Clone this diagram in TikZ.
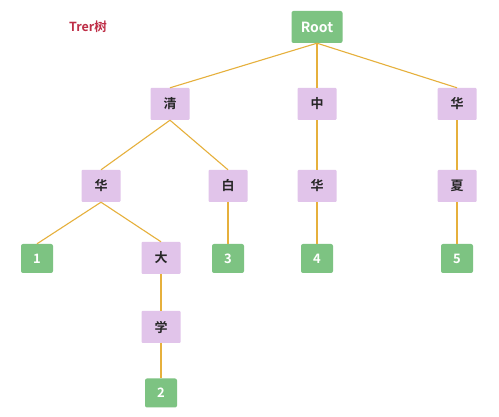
\documentclass[tikz,border=0pt]{standalone}
\usepackage{fontspec}
\setmainfont{Noto Sans CJK SC}[BoldFont={Noto Sans CJK SC Bold}]
\begin{document}
\begin{tikzpicture}[x=1pt,y=-1pt,
  gbox/.style={fill=gfill, draw=none, rounded corners=2pt, minimum width=32pt, minimum height=29pt, text=white, font=\fontsize{13}{15}\selectfont\bfseries, inner sep=0pt},
  pbox/.style={fill=pfill, draw=none, rounded corners=1pt, minimum width=39pt, minimum height=32pt, text=black!85, font=\fontsize{13}{15}\selectfont\bfseries, inner sep=0pt},
  edge/.style={draw=ecol, line width=1.1pt}]
\definecolor{gfill}{RGB}{125,195,130}
\definecolor{pfill}{RGB}{225,196,234}
\definecolor{ecol}{RGB}{230,176,60}
\definecolor{tcol}{RGB}{190,45,70}
\useasboundingbox[fill=white] (0,0) rectangle (499,417);
\node[text=tcol, font=\fontsize{12.5}{14}\selectfont\bfseries] (title) at (88,27) {Trer树};
\node[gbox, minimum width=51pt, minimum height=32pt, font=\fontsize{14}{16}\selectfont\bfseries] (root) at (317,27) {Root};
\node[pbox] (qing) at (170,104) {清};
\node[pbox] (zhong) at (317,104) {中};
\node[pbox] (hua3) at (457,104) {华};
\node[pbox] (hua1) at (101,186) {华};
\node[pbox] (bai) at (228,186) {白};
\node[pbox] (hua2) at (317,186) {华};
\node[pbox] (xia) at (457,186) {夏};
\node[gbox] (n1) at (37,258.5) {1};
\node[pbox] (da) at (161,258) {大};
\node[gbox] (n3) at (228,258.5) {3};
\node[gbox] (n4) at (317,258.5) {4};
\node[gbox] (n5) at (457,258.5) {5};
\node[pbox] (xue) at (161,327) {学};
\node[gbox] (n2) at (161,393) {2};
\draw[edge] (root.south) -- (qing.north);
\draw[edge] (root.south) -- (zhong.north);
\draw[edge] (root.south) -- (hua3.north);
\draw[edge] (qing.south) -- (hua1.north);
\draw[edge] (qing.south) -- (bai.north);
\draw[edge] (zhong.south) -- (hua2.north);
\draw[edge] (hua3.south) -- (xia.north);
\draw[edge] (hua1.south) -- (n1.north);
\draw[edge] (hua1.south) -- (da.north);
\draw[edge] (bai.south) -- (n3.north);
\draw[edge] (hua2.south) -- (n4.north);
\draw[edge] (xia.south) -- (n5.north);
\draw[edge] (da.south) -- (xue.north);
\draw[edge] (xue.south) -- (n2.north);
\end{tikzpicture}
\end{document}
